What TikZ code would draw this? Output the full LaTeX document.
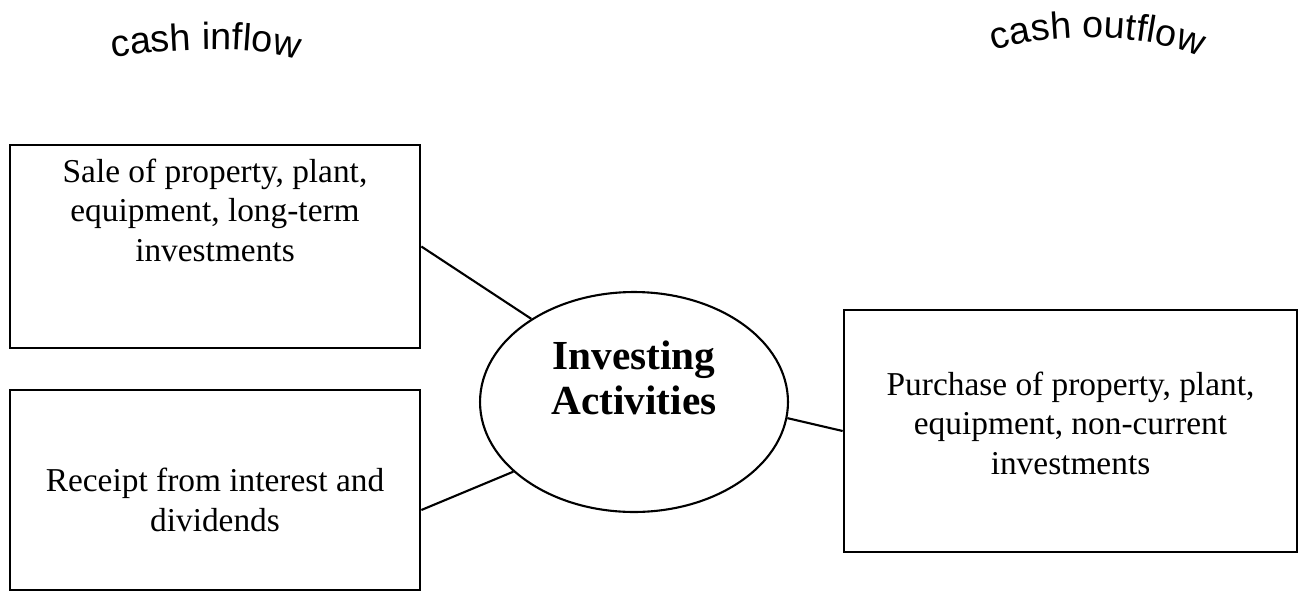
\documentclass[tikz,border=0pt]{standalone}
\usepackage{fontspec}
\setmainfont{Liberation Serif}
\newfontfamily\arcfont{Liberation Sans}
\usetikzlibrary{shapes.geometric,decorations.text}

\tikzset{
  flowbox/.style={draw,line width=1.6pt,minimum width=8.2cm,inner sep=0pt},
  flowtext/.style={align=center,inner sep=0pt,font=\fontsize{19}{22.5}\selectfont},
  hub/.style={draw,ellipse,line width=1.2pt,minimum width=6.16cm,minimum height=4.4cm,inner sep=0pt},
  hubtext/.style={align=center,inner sep=0pt,font=\bfseries\fontsize{23.5}{26}\selectfont},
  link/.style={line width=1.2pt}
}

\begin{document}
\begin{tikzpicture}[x=0.02cm,y=-0.02cm]
        \useasboundingbox (0,0) rectangle (1301,592);

        % Headings
        \path[decorate,decoration={text along path,text align=center,
          text={|\arcfont\fontsize{21.5}{24}\selectfont|cash inflow}}]
          (108,58) .. controls (165,50) and (250,43) .. (302,61);
        \path[decorate,decoration={text along path,text align=center,
          text={|\arcfont\fontsize{21.5}{24}\selectfont|cash outflow}}]
          (985,54) .. controls (1040,32) and (1150,30) .. (1208,61);

        % Boxes
        \node[flowbox,minimum height=4.06cm] (sale) at (215,246.5) {};
        \node[flowtext] (saletext) at (215,210) {Sale of property, plant,\\equipment, long-term\\investments};

        \node[flowbox,minimum height=4cm] (receipt) at (215,490) {};
        \node[flowtext] (receipttext) at (215,500) {Receipt from interest and\\dividends};

        \node[flowbox,minimum width=9.06cm,minimum height=4.84cm] (purchase) at (1070.5,431) {};
        \node[flowtext] (purchasetext) at (1070.5,423) {Purchase of property, plant,\\equipment, non-current\\investments};

        % Centre
        \node[hub] (inv) at (634,402) {};
        \node[hubtext] (invtext) at (634,378) {Investing\\Activities};

        % Links
        \draw[link] (sale.east) -- (inv.141);
        \draw[link] ([yshift=-0.4cm]receipt.east) -- (inv.210);
        \draw[link] (inv.-6) -- (purchase.west);
\end{tikzpicture}
\end{document}
